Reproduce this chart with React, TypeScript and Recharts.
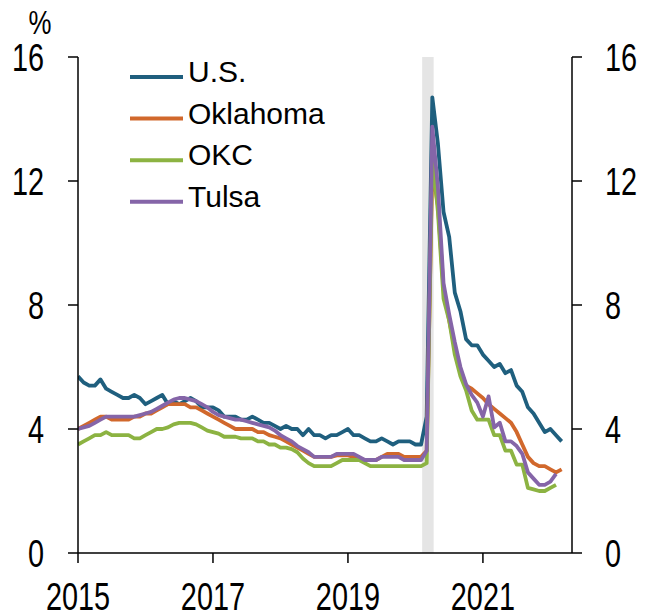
import React from "react";
import { LineChart, Line, XAxis, YAxis, ReferenceArea, Legend } from "recharts";

// monthly, Jan 2015 .. Mar 2022 (unemployment rate, %)
const SERIES_NAMES = ["U.S.", "Oklahoma", "OKC", "Tulsa"];
const SERIES_COLORS = ["#1f5f7e", "#d1682c", "#8cb342", "#8565a8"];
const YEAR_TICKS = [2015, 2017, 2019, 2021];
const PCT_TICKS = [0, 4, 8, 12, 16];
const RECESSION = [2020.1, 2020.27];

const us = [
  5.7, 5.5, 5.4, 5.4, 5.6, 5.3, 5.2, 5.1, 5.0, 5.0, 5.1, 5.0,
  4.8, 4.9, 5.0, 5.1, 4.8, 4.9, 4.8, 4.9, 5.0, 4.9, 4.7, 4.7,
  4.7, 4.6, 4.4, 4.4, 4.4, 4.3, 4.3, 4.4, 4.3, 4.2, 4.2, 4.1,
  4.0, 4.1, 4.0, 4.0, 3.8, 4.0, 3.8, 3.8, 3.7, 3.8, 3.8, 3.9,
  4.0, 3.8, 3.8, 3.7, 3.6, 3.6, 3.7, 3.6, 3.5, 3.6, 3.6, 3.6,
  3.5, 3.5, 4.4, 14.7, 13.2, 11.0, 10.2, 8.4, 7.8, 6.9, 6.7, 6.7,
  6.4, 6.2, 6.0, 6.1, 5.8, 5.9, 5.4, 5.2, 4.7, 4.5, 4.2, 3.9,
  4.0, 3.8, 3.6,
];

const oklahoma = [
  4.0, 4.1, 4.2, 4.3, 4.4, 4.4, 4.3, 4.3, 4.3, 4.3, 4.4, 4.4,
  4.5, 4.5, 4.6, 4.7, 4.8, 4.8, 4.8, 4.8, 4.7, 4.7, 4.6, 4.5,
  4.4, 4.3, 4.2, 4.1, 4.0, 4.0, 4.0, 4.0, 3.9, 3.9, 3.8, 3.75,
  3.7, 3.6, 3.5, 3.4, 3.3, 3.2, 3.1, 3.1, 3.1, 3.1, 3.15, 3.15,
  3.15, 3.1, 3.05, 3.0, 3.0, 3.0, 3.1, 3.2, 3.2, 3.2, 3.1, 3.1,
  3.1, 3.1, 3.3, 12.4, 11.2, 8.5, 7.5, 6.6, 5.9, 5.4, 5.3, 5.15,
  5.0, 4.8, 4.65, 4.5, 4.35, 4.2, 3.9, 3.5, 3.1, 2.9, 2.8, 2.8,
  2.7, 2.6, 2.7,
];

const okc = [
  3.5, 3.6, 3.7, 3.8, 3.8, 3.9, 3.8, 3.8, 3.8, 3.8, 3.7, 3.7,
  3.8, 3.9, 4.0, 4.0, 4.05, 4.15, 4.2, 4.2, 4.2, 4.15, 4.05, 3.95,
  3.9, 3.85, 3.75, 3.75, 3.75, 3.7, 3.7, 3.7, 3.6, 3.6, 3.5, 3.5,
  3.4, 3.4, 3.35, 3.25, 3.05, 2.9, 2.8, 2.8, 2.8, 2.8, 2.9, 3.0,
  3.0, 3.0, 3.0, 2.9, 2.8, 2.8, 2.8, 2.8, 2.8, 2.8, 2.8, 2.8,
  2.8, 2.8, 2.9, 12.9, 11.0, 8.2, 7.5, 6.4, 5.7, 5.25, 4.6, 4.3,
  4.3, 4.3, 3.8, 3.8, 3.3, 3.3, 2.85, 2.85, 2.1, 2.05, 2.0, 2.0,
  2.1, 2.2,
];

const tulsa = [
  4.0, 4.05, 4.1, 4.2, 4.3, 4.4, 4.4, 4.4, 4.4, 4.4, 4.4, 4.45,
  4.5, 4.55, 4.65, 4.75, 4.85, 4.95, 5.0, 5.0, 4.95, 4.9, 4.8, 4.7,
  4.55, 4.45, 4.4, 4.35, 4.3, 4.3, 4.25, 4.2, 4.15, 4.1, 4.05, 3.95,
  3.8, 3.7, 3.6, 3.45, 3.35, 3.25, 3.1, 3.1, 3.1, 3.1, 3.2, 3.2,
  3.2, 3.2, 3.1, 3.0, 3.0, 3.0, 3.1, 3.1, 3.1, 3.1, 3.0, 3.0,
  3.0, 3.0, 3.3, 13.75, 11.8, 8.7, 7.7, 6.8, 6.0, 5.45, 5.1, 4.85,
  4.4, 5.05, 4.05, 4.2, 3.6, 3.6, 3.45, 3.2, 2.6, 2.4, 2.2, 2.2,
  2.3, 2.55,
];

const data = us.map((v, i) => ({
  t: 2015 + i / 12,
  us: v,
  oklahoma: oklahoma[i] ?? null,
  okc: okc[i] ?? null,
  tulsa: tulsa[i] ?? null,
}));

const KEYS = ["us", "oklahoma", "okc", "tulsa"];
const FONT = "'Liberation Sans', Arial, Helvetica, sans-serif";

// the source uses a narrow face for the axis numbers
function AxisTick(props: any) {
  const { x, y, payload, textAnchor, axis } = props;
  const dy = axis === "x" ? 47 : 13.5;
  return (
    <text
      transform={`translate(${x},${y}) scale(0.76,1)`}
      textAnchor={textAnchor}
      dy={dy}
      fontSize={38}
      fontFamily={FONT}
      fill="#000"
    >
      {payload.value}
    </text>
  );
}

function renderLegend(props: any) {
  const items = [...(props.payload || [])]
    .filter((it) => SERIES_NAMES.includes(it.value))
    .sort((a, b) => SERIES_NAMES.indexOf(a.value) - SERIES_NAMES.indexOf(b.value));
  return (
    <svg width={340} height={230} style={{ display: "block" }}>
      {items.map((item, i) => {
        const y = 77 + i * 41.6;
        return (
          <g key={item.value}>
            <line x1={130} x2={183} y1={y} y2={y} stroke={item.color} strokeWidth={4} />
            <text x={188} y={y + 5} fontSize={30} fontFamily={FONT} fill="#000">
              {item.value}
            </text>
          </g>
        );
      })}
    </svg>
  );
}

const renderPercent = () => (
  <text
    transform="translate(40,34) scale(0.76,1)"
    textAnchor="middle"
    fontSize={34}
    fontFamily={FONT}
    fill="#000"
  >
    %
  </text>
);

const axisStyle = { stroke: "#000", strokeWidth: 1.5 };

export default function App() {
  return (
    <div style={{ position: "absolute", left: 0, top: 0, background: "#fff" }}>
      <LineChart
        width={649}
        height={615}
        data={data}
        margin={{ top: 57, right: 0, bottom: 0, left: 0 }}
      >
        <ReferenceArea
          yAxisId="left"
          x1={RECESSION[0]}
          x2={RECESSION[1]}
          y1={0}
          y2={16}
          fill="#e5e5e5"
          fillOpacity={1}
          stroke="none"
        />
        <XAxis
          dataKey="t"
          type="number"
          domain={[2015, 2022.32]}
          ticks={YEAR_TICKS}
          allowDataOverflow
          height={62}
          tickSize={10}
          tickMargin={0}
          axisLine={axisStyle}
          tickLine={axisStyle}
          tick={(p: any) => <AxisTick {...p} axis="x" />}
        />
        <YAxis
          yAxisId="left"
          domain={[0, 16]}
          ticks={PCT_TICKS}
          width={78}
          tickSize={10}
          tickMargin={24}
          axisLine={axisStyle}
          tickLine={axisStyle}
          tick={(p: any) => <AxisTick {...p} axis="y" />}
          label={renderPercent}
        />
        <YAxis
          yAxisId="right"
          orientation="right"
          domain={[0, 16]}
          ticks={PCT_TICKS}
          width={77}
          tickSize={10}
          tickMargin={23}
          axisLine={axisStyle}
          tickLine={axisStyle}
          tick={(p: any) => <AxisTick {...p} axis="y" />}
        />
        <Legend
          layout="vertical"
          align="center"
          verticalAlign="middle"
          content={renderLegend}
          wrapperStyle={{ left: 0, top: 0, width: 340, height: 230 }}
        />
        {/* invisible series so the mirrored right axis gets its ticks */}
        <Line
          yAxisId="right"
          dataKey="us"
          name="right-axis"
          stroke="none"
          strokeWidth={0}
          dot={false}
          activeDot={false}
          legendType="none"
          isAnimationActive={false}
        />
        {KEYS.map((k, i) => (
          <Line
            key={k}
            yAxisId="left"
            type="linear"
            dataKey={k}
            name={SERIES_NAMES[i]}
            stroke={SERIES_COLORS[i]}
            strokeWidth={3.8}
            strokeLinejoin="round"
            dot={false}
            activeDot={false}
            isAnimationActive={false}
          />
        ))}
      </LineChart>
    </div>
  );
}
